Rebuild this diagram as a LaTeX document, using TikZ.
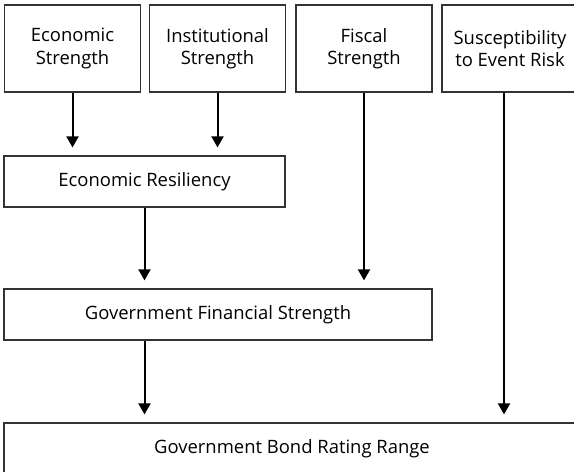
\documentclass[tikz,border=0pt]{standalone}
\usepackage{fontspec}
\setmainfont{Open Sans}
\usetikzlibrary{arrows.meta}
\begin{document}
\begin{tikzpicture}[x=1bp,y=-1bp,
    box/.style={draw=black!80,line width=1.2bp,align=center,inner sep=0pt,
      font=\fontsize{18.5}{22.5}\selectfont},
    topbox/.style={box,minimum width=136bp,minimum height=87bp},
    midbox/.style={box,minimum height=51bp},
    arr/.style={line width=2bp,-{Triangle[width=12bp,length=11bp]},shorten >=8bp}]
  \useasboundingbox (0,0) rectangle (574,472);
  \clip (0,0) rectangle (574,472);
  \node[topbox] (econ) at (72.5,48.5) {Economic\\Strength};
  \node[topbox] (inst) at (217.5,48.5) {Institutional\\Strength};
  \node[topbox] (fisc) at (364,48.5) {Fiscal\\Strength};
  \node[topbox] (risk) at (510,48.5) {Susceptibility\\to Event Risk};
  \node[midbox,minimum width=281bp] (er) at (144.5,181.5) {Economic Resiliency};
  \node[midbox,minimum width=428bp] (gfs) at (218,314.5) {Government Financial Strength};
  \node[midbox,minimum width=576bp] (bond) at (292,448.5) {Government Bond Rating Range};
  \begin{scope}
    \draw[arr] (econ.south) -- (econ.south |- er.north);
    \draw[arr] (inst.south) -- (inst.south |- er.north);
    \draw[arr] (er.south) -- (er.south |- gfs.north);
    \draw[arr] (fisc.south) -- (fisc.south |- gfs.north);
    \draw[arr] (gfs.south -| er.south) -- (bond.north -| er.south);
    \draw[arr] ([xshift=-6bp]risk.south) -- ([xshift=-6bp]risk.south |- bond.north);
  \end{scope}
\end{tikzpicture}
\end{document}
